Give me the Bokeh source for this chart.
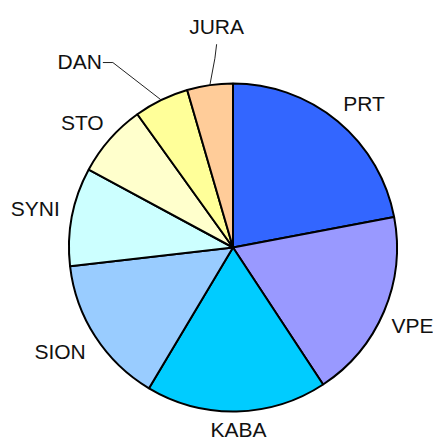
import math
from bokeh.plotting import figure
from bokeh.models import Range1d
from bokeh.core.properties import value
from bokeh.embed import file_html
from bokeh.resources import INLINE

# ---- data ----
labels = ["PRT", "VPE", "KABA", "SION", "SYNI", "STO", "DAN", "JURA"]
shares = [22.0, 18.7, 17.8, 14.6, 9.7, 7.2, 5.4, 4.5]
colors = ["#3366FF", "#9999FF", "#00CCFF", "#99CCFF", "#CCFFFF", "#FFFFCC", "#FFFF99", "#FFCC99"]

# ---- layout (page pixel space, y measured upward) ----
W, H = 433, 441
cx, cy_px, R = 232.5, 247.0, 164.0
cy = H - cy_px
FONT = "21px"
GAP = 10          # distance from pie edge to nearest label corner
HH = 10           # half label height
CHAR_W = 6.7      # half-width per character
# labels dragged away from the pie (moved by dx, dy in pixels, screen-down positive)
moved = {"DAN": (-57, -19.5), "JURA": (19.5, -39)}

p = figure(width=W, height=H, output_backend="svg", toolbar_location=None,
           x_range=Range1d(0, W), y_range=Range1d(0, H),
           x_axis_type=None, y_axis_type=None, min_border=0)
p.grid.visible = False
p.outline_line_color = None
p.background_fill_color = "white"
p.border_fill_color = "white"

total = sum(shares)
starts, ends, mids = [], [], []
cum = 0.0
for s in shares:
    a0 = math.pi / 2 - 2 * math.pi * cum / total
    cum += s
    a1 = math.pi / 2 - 2 * math.pi * cum / total
    starts.append(a0)
    ends.append(a1)
    mids.append((a0 + a1) / 2)

p.wedge(x=[cx] * len(shares), y=[cy] * len(shares), radius=R,
        start_angle=starts, end_angle=ends, direction="clock",
        fill_color=colors, line_color="black", line_width=2)


def f(t):
    return max(-1.0, min(1.0, 3.0 * t))


lx, ly = [], []
for lab, m in zip(labels, mids):
    ux, uy = math.cos(m), math.sin(m)
    hw = len(lab) * CHAR_W
    px_, py_ = cx + (R + GAP) * ux, cy + (R + GAP) * uy
    tx, ty = px_ + hw * f(ux), py_ + HH * f(uy)
    if lab in moved:
        dx, dy = moved[lab]
        tx, ty = tx + dx, ty - dy
        ex, ey = cx + R * ux, cy + R * uy
        if abs(dx) > abs(dy):
            sx = tx + hw + 3
            p.line([sx, sx + 10, ex], [ty - 1, ty - 1, ey], line_color="#222222", line_width=1)
        else:
            sy = ty - HH - 8
            p.line([tx, tx - 1.7, ex], [sy, sy - 14, ey], line_color="#222222", line_width=1)
    # keep the label inside the page
    ty = max(ty, 12.5)
    tx = min(tx, W - hw - 1)
    lx.append(tx)
    ly.append(ty)

p.text(x=lx, y=ly, text=labels, text_font=value("Liberation Sans"), text_font_size=FONT,
       text_align="center", text_baseline="middle", text_color="#111111")

open("out.html", "w").write(file_html(p, INLINE))
